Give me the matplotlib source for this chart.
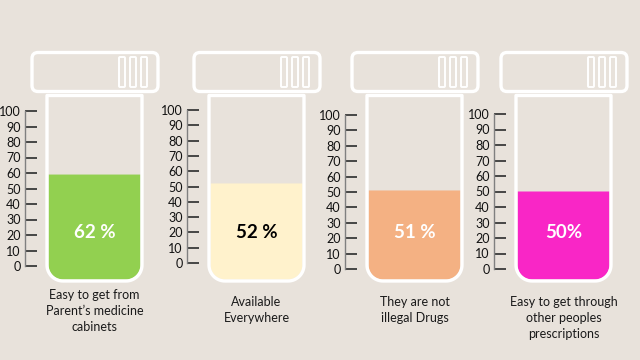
import numpy as np
import matplotlib
matplotlib.use("Agg")
import matplotlib.pyplot as plt
from matplotlib.patches import Polygon, FancyBboxPatch

plt.rcParams['font.family'] = ['Lato', 'DejaVu Sans']

# data
categories = ["Easy to get from\nParent\u2019s medicine\ncabinets",
              "Available\nEverywhere",
              "They are not\nillegal Drugs",
              "Easy to get through\nother peoples\nprescriptions"]
value_labels = ["62 %", "52 %", "51 %", "50%"]
fill_levels = [59, 52, 51, 50]
fill_colors = ["#92D050", "#FFF2CC", "#F4B183", "#F926C6"]
label_colors = ["white", "black", "white", "white"]
ticks = [0, 10, 20, 30, 40, 50, 60, 70, 80, 90, 100]

# layout in figure pixels (640x360)
axis_x = [25, 187, 345, 494]
tick100_y = [111, 110, 115, 114]
tick0_y = [266, 263, 269, 269]
text_top = [289, 296, 296, 296]

bg = "#E8E2DB"
W, H = 640, 360
fig = plt.figure(figsize=(6.4, 3.6), dpi=100, facecolor=bg)


def tube_shape(x0, x1, ytop, ybot, r):
    # y in pixels (downwards), returns y-up pixel coords
    pts = [(x0, -ytop)]
    t = np.linspace(np.pi, 1.5 * np.pi, 20)
    cx, cy = x0 + r, -ybot + r
    pts += list(zip(cx + r * np.cos(t), cy + r * np.sin(t)))
    t = np.linspace(1.5 * np.pi, 2 * np.pi, 20)
    cx = x1 - r
    pts += list(zip(cx + r * np.cos(t), cy + r * np.sin(t)))
    pts.append((x1, -ytop))
    return np.array(pts)


for i in range(4):
    y0, y100 = tick0_y[i], tick100_y[i]
    ppu = (y0 - y100) / 100.0
    ax = fig.add_axes([axis_x[i] / W, 1 - y0 / H, 140 / W, (y0 - y100) / H])
    ax.set_xlim(0, 140)
    ax.set_ylim(0, 100)
    ax.patch.set_visible(False)
    for s in ["top", "right", "bottom"]:
        ax.spines[s].set_visible(False)
    ax.spines["left"].set_bounds(0, 100)
    ax.spines["left"].set_color("#808080")
    ax.spines["left"].set_linewidth(1.0)
    ax.set_xticks([])
    ax.set_yticks(ticks)
    ax.tick_params(axis="y", direction="in", length=8.5, width=1.3,
                   color="#3a3a3a", labelsize=9, labelcolor="#111111", pad=3)

    def d(py):
        return (y0 - py) / ppu

    # fill
    fill_top_px = y0 - fill_levels[i] * ppu
    fp = tube_shape(23.5, 115.5, fill_top_px, 279.5, 14.5)
    fp[:, 1] = (y0 + fp[:, 1]) / ppu
    ax.add_patch(Polygon(fp, closed=True, facecolor=fill_colors[i],
                         edgecolor="none", clip_on=False, zorder=2))

    # tube outline
    tp = tube_shape(22, 117, 95.5, 281, 16)
    tp[:, 1] = (y0 + tp[:, 1]) / ppu
    ax.add_patch(Polygon(tp, closed=True, facecolor="none", edgecolor="white",
                         linewidth=2.4, clip_on=False, zorder=3,
                         joinstyle="round"))

    # cap
    ax.add_patch(FancyBboxPatch((7, d(91.5)), 126, d(52.5) - d(91.5),
                                boxstyle="round,pad=0,rounding_size=6",
                                mutation_aspect=1 / ppu, facecolor="none",
                                edgecolor="white", linewidth=2.4,
                                clip_on=False, zorder=3))
    for sx in [94, 105, 116]:
        ax.add_patch(FancyBboxPatch((sx, d(87)), 6, d(57) - d(87),
                                    boxstyle="round,pad=0,rounding_size=1",
                                    mutation_aspect=1 / ppu, facecolor="none",
                                    edgecolor="white", linewidth=1.4,
                                    clip_on=False, zorder=3))

    ax.text(69.5, d(232), value_labels[i], ha="center", va="center",
            fontsize=13.5, fontweight="bold", color=label_colors[i], zorder=4)
    ax.text(69.5, d(text_top[i]), categories[i], ha="center", va="top",
            fontsize=9, color="#1a1a1a", linespacing=1.38, clip_on=False)

fig.savefig("out.png", dpi=100, facecolor=bg)
